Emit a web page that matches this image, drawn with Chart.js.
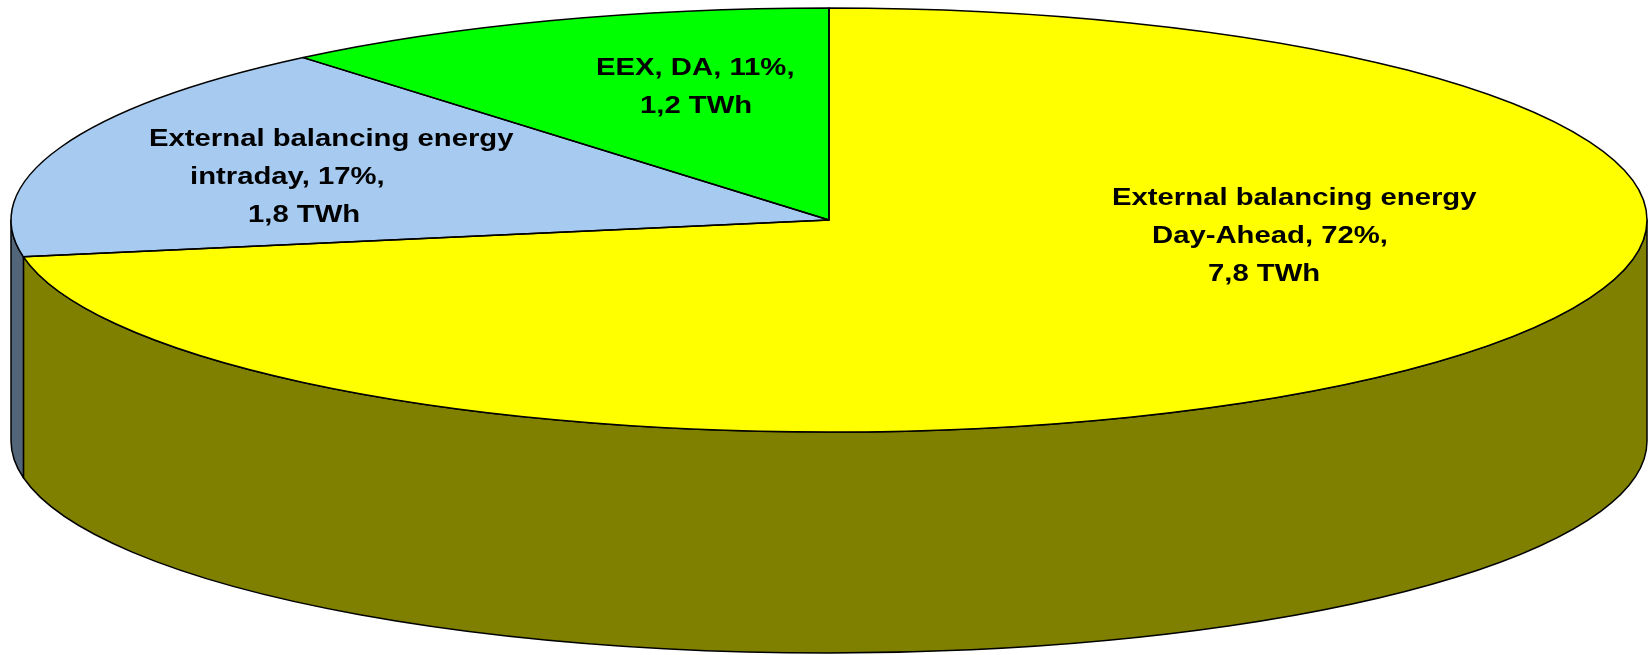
<!DOCTYPE html>
<html>
<head>
<meta charset="utf-8">
<script src="https://cdn.jsdelivr.net/npm/chart.js@4.4.1/dist/chart.umd.min.js"></script>
<style>
    html, body { margin:0; padding:0; background:#fff; }
    #wrap { width:1648px; height:655px; }
</style>
</head>
<body>
<div id="wrap"><canvas id="chartPie3d" width="1648" height="655"></canvas></div>
<script>
// 외부 조정에너지 구성 — 3D 파이

const CATEGORIES = ['External balancing energy Day-Ahead', 'External balancing energy intraday', 'EEX, DA'];
const CATEGORY_LINES = [
    ['External balancing energy', 'Day-Ahead'],
    ['External balancing energy', 'intraday'],
    ['EEX, DA'],
];
const VALUES_TWH = [7.8, 1.8, 1.2];

const TOP_COLORS  = ['#FFFF00', '#A6CAF0', '#00FF00'];
const SIDE_COLORS = ['#808000', '#536578', '#008000'];

// 라벨 위치 (파이 중심 기준, 줄별 왼쪽 x / 첫 줄 baseline)
const LABEL_DX = [[283, 323, 379], [-680, -639, -581], [-233, -189]];
const LABEL_DY = [-15, -74, -145];
const LINE_H   = 38;
const TILT     = 0.2592;   // ry / rx

function labelLines(i) {
    const total = VALUES_TWH.reduce((s, v) => s + v, 0);
    const pct = Math.round(VALUES_TWH[i] / total * 100);
    const twh = VALUES_TWH[i].toFixed(1).replace('.', ',') + ' TWh';
    const cat = CATEGORY_LINES[i];
    const lines = cat.slice(0, -1);
    lines.push(cat[cat.length - 1] + ', ' + pct + '%,');
    lines.push(twh);
    return lines;
}

function geom(chart) {
    const a = chart.chartArea;
    const rx = (a.right - a.left) / 2;
    const ry = rx * TILT;
    return { cx: a.left + rx, cy: a.top + ry, rx, ry, depth: (a.bottom - a.top) - 2 * ry };
}

// 타원 호를 경로에 추가 (변환은 즉시 반영, 선 두께는 유지)
function ellArc(ctx, cx, cy, rx, ry, a0, a1, ccw) {
    ctx.save();
    ctx.translate(cx, cy);
    ctx.scale(rx, ry);
    ctx.arc(0, 0, 1, a0, a1, !!ccw);
    ctx.restore();
}

const pie3d = {
    id: 'pie3d',
    beforeDatasetsDraw(chart) {
        const ctx = chart.ctx;
        const g = geom(chart);
        const arcs = chart.getDatasetMeta(0).data;

        // 옆면 (앞쪽 반원 0..π)
        ctx.save();
        ctx.lineWidth = 1.5;
        ctx.strokeStyle = '#000';
        ctx.lineJoin = 'round';
        arcs.forEach((arc, i) => {
            const s = Math.max(arc.startAngle, 0);
            const e = Math.min(arc.endAngle, Math.PI);
            if (e <= s) return;
            ctx.beginPath();
            ellArc(ctx, g.cx, g.cy, g.rx, g.ry, s, e);
            ctx.lineTo(g.cx + g.rx * Math.cos(e), g.cy + g.depth + g.ry * Math.sin(e));
            ellArc(ctx, g.cx, g.cy + g.depth, g.rx, g.ry, e, s, true);
            ctx.closePath();
            ctx.fillStyle = SIDE_COLORS[i];
            ctx.fill();
            ctx.stroke();
        });
        ctx.restore();

        // 윗면은 Chart.js가 그리되 타원으로 눌러서
        const a0 = arcs[0];
        const R = a0.outerRadius;
        ctx.save();
        ctx.translate(g.cx, g.cy);
        ctx.scale(g.rx / R, g.ry / R);
        ctx.translate(-a0.x, -a0.y);
    },
    afterDatasetsDraw(chart) {
        const ctx = chart.ctx;
        ctx.restore();
        const g = geom(chart);
        const arcs = chart.getDatasetMeta(0).data;

        ctx.save();
        ctx.lineWidth = 1.5;
        ctx.strokeStyle = '#000';
        ctx.lineJoin = 'round';
        arcs.forEach(arc => {
            ctx.beginPath();
            ctx.moveTo(g.cx, g.cy);
            ellArc(ctx, g.cx, g.cy, g.rx, g.ry, arc.startAngle, arc.endAngle);
            ctx.closePath();
            ctx.stroke();
        });

        // 데이터 라벨
        ctx.fillStyle = '#000';
        ctx.font = 'bold 24px "Liberation Sans", Arial, sans-serif';
        ctx.textAlign = 'left';
        ctx.textBaseline = 'alphabetic';
        arcs.forEach((arc, i) => {
            labelLines(i).forEach((txt, li) => {
                ctx.save();
                ctx.translate(g.cx + LABEL_DX[i][li], g.cy + LABEL_DY[i] + li * LINE_H);
                ctx.scale(1.22, 1);
                ctx.fillText(txt, 0, 0);
                ctx.restore();
            });
        });
        ctx.restore();
    }
};

new Chart(document.getElementById('chartPie3d'), {
    type: 'pie',
    data: {
        labels: CATEGORIES,
        datasets: [{ data: VALUES_TWH, backgroundColor: TOP_COLORS, borderWidth: 0, clip: false }]
    },
    options: {
        responsive: false,
        animation: false,
        events: [],
        layout: { padding: { left: 11, right: 1, top: 8, bottom: 2 } },
        plugins: { legend: { display: false }, tooltip: { enabled: false } }
    },
    plugins: [pie3d]
});
</script>
</body>
</html>
